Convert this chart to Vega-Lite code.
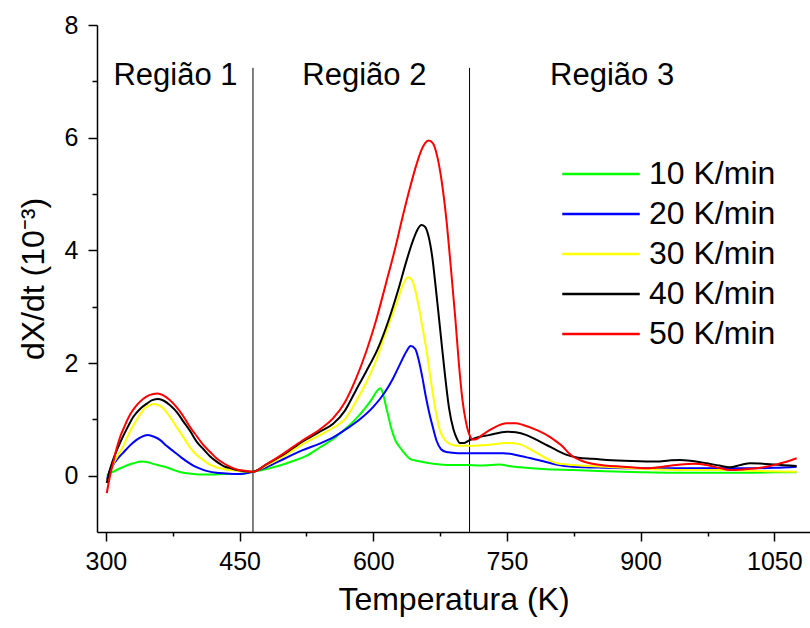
{
  "$schema": "https://vega.github.io/schema/vega-lite/v6.json",
  "width": 713,
  "height": 507,
  "autosize": {"type": "none"},
  "padding": {"left": 97, "top": 25, "right": 0, "bottom": 96},
  "background": "white",
  "config": {"view": {"stroke": null}, "font": "Liberation Sans"},
  "layer": [
    {
      "data": {"values": [{}]},
      "mark": {"type": "rule", "color": "black", "strokeWidth": 1},
      "encoding": {"x": {"datum": 465, "type": "quantitative"}, "y": {"datum": -1, "type": "quantitative"}, "y2": {"datum": 7.24}}
    },
    {
      "data": {"values": [{}]},
      "mark": {"type": "rule", "color": "black", "strokeWidth": 1},
      "encoding": {"x": {"datum": 708, "type": "quantitative"}, "y": {"datum": -1, "type": "quantitative"}, "y2": {"datum": 7.24}}
    },
    {
      "data": {"values": [{}]},
      "mark": {"type": "text", "fontSize": 31, "font": "Liberation Sans", "color": "black", "baseline": "alphabetic", "align": "center"},
      "encoding": {"x": {"datum": 378, "type": "quantitative"}, "y": {"datum": 6.93, "type": "quantitative"}, "text": {"value": "Região 1"}}
    },
    {
      "data": {"values": [{}]},
      "mark": {"type": "text", "fontSize": 31, "font": "Liberation Sans", "color": "black", "baseline": "alphabetic", "align": "center"},
      "encoding": {"x": {"datum": 590, "type": "quantitative"}, "y": {"datum": 6.93, "type": "quantitative"}, "text": {"value": "Região 2"}}
    },
    {
      "data": {"values": [{}]},
      "mark": {"type": "text", "fontSize": 31, "font": "Liberation Sans", "color": "black", "baseline": "alphabetic", "align": "center"},
      "encoding": {"x": {"datum": 868, "type": "quantitative"}, "y": {"datum": 6.93, "type": "quantitative"}, "text": {"value": "Região 3"}}
    },
    {
      "data": {"values": [
        {"T":301,"v":0.0,"s":"10 K/min"},{"T":305,"v":0.05,"s":"10 K/min"},{"T":308,"v":0.07,"s":"10 K/min"},{"T":313,"v":0.11,"s":"10 K/min"},{"T":319,"v":0.15,"s":"10 K/min"},{"T":325,"v":0.19,"s":"10 K/min"},{"T":331,"v":0.22,"s":"10 K/min"},{"T":340,"v":0.25,"s":"10 K/min"},{"T":347,"v":0.24,"s":"10 K/min"},{"T":353,"v":0.21,"s":"10 K/min"},{"T":360,"v":0.18,"s":"10 K/min"},{"T":368,"v":0.15,"s":"10 K/min"},{"T":378,"v":0.09,"s":"10 K/min"},{"T":387,"v":0.05,"s":"10 K/min"},{"T":398,"v":0.03,"s":"10 K/min"},{"T":409,"v":0.02,"s":"10 K/min"},{"T":420,"v":0.02,"s":"10 K/min"},{"T":432,"v":0.03,"s":"10 K/min"},{"T":445,"v":0.03,"s":"10 K/min"},{"T":454,"v":0.04,"s":"10 K/min"},{"T":465,"v":0.07,"s":"10 K/min"},{"T":480,"v":0.12,"s":"10 K/min"},{"T":495,"v":0.18,"s":"10 K/min"},{"T":510,"v":0.26,"s":"10 K/min"},{"T":525,"v":0.35,"s":"10 K/min"},{"T":540,"v":0.5,"s":"10 K/min"},{"T":555,"v":0.65,"s":"10 K/min"},{"T":570,"v":0.85,"s":"10 K/min"},{"T":580,"v":1.0,"s":"10 K/min"},{"T":590,"v":1.18,"s":"10 K/min"},{"T":598,"v":1.35,"s":"10 K/min"},{"T":604,"v":1.5,"s":"10 K/min"},{"T":608,"v":1.55,"s":"10 K/min"},{"T":611,"v":1.45,"s":"10 K/min"},{"T":614,"v":1.25,"s":"10 K/min"},{"T":617,"v":1.05,"s":"10 K/min"},{"T":620,"v":0.85,"s":"10 K/min"},{"T":625,"v":0.62,"s":"10 K/min"},{"T":630,"v":0.5,"s":"10 K/min"},{"T":636,"v":0.38,"s":"10 K/min"},{"T":641,"v":0.3,"s":"10 K/min"},{"T":650,"v":0.26,"s":"10 K/min"},{"T":660,"v":0.23,"s":"10 K/min"},{"T":675,"v":0.2,"s":"10 K/min"},{"T":690,"v":0.19,"s":"10 K/min"},{"T":705,"v":0.19,"s":"10 K/min"},{"T":720,"v":0.18,"s":"10 K/min"},{"T":732,"v":0.19,"s":"10 K/min"},{"T":742,"v":0.2,"s":"10 K/min"},{"T":752,"v":0.17,"s":"10 K/min"},{"T":765,"v":0.15,"s":"10 K/min"},{"T":790,"v":0.12,"s":"10 K/min"},{"T":824,"v":0.1,"s":"10 K/min"},{"T":860,"v":0.08,"s":"10 K/min"},{"T":900,"v":0.06,"s":"10 K/min"},{"T":937,"v":0.05,"s":"10 K/min"},{"T":980,"v":0.05,"s":"10 K/min"},{"T":1020,"v":0.05,"s":"10 K/min"},{"T":1050,"v":0.06,"s":"10 K/min"},{"T":1075,"v":0.06,"s":"10 K/min"},

        {"T":301,"v":-0.08,"s":"20 K/min"},{"T":304,"v":0.08,"s":"20 K/min"},{"T":308,"v":0.19,"s":"20 K/min"},{"T":313,"v":0.3,"s":"20 K/min"},{"T":319,"v":0.4,"s":"20 K/min"},{"T":326,"v":0.52,"s":"20 K/min"},{"T":334,"v":0.63,"s":"20 K/min"},{"T":340,"v":0.69,"s":"20 K/min"},{"T":347,"v":0.72,"s":"20 K/min"},{"T":354,"v":0.69,"s":"20 K/min"},{"T":361,"v":0.63,"s":"20 K/min"},{"T":368,"v":0.53,"s":"20 K/min"},{"T":376,"v":0.43,"s":"20 K/min"},{"T":384,"v":0.33,"s":"20 K/min"},{"T":391,"v":0.25,"s":"20 K/min"},{"T":398,"v":0.18,"s":"20 K/min"},{"T":405,"v":0.13,"s":"20 K/min"},{"T":414,"v":0.08,"s":"20 K/min"},{"T":424,"v":0.05,"s":"20 K/min"},{"T":435,"v":0.04,"s":"20 K/min"},{"T":447,"v":0.03,"s":"20 K/min"},{"T":456,"v":0.04,"s":"20 K/min"},{"T":465,"v":0.07,"s":"20 K/min"},{"T":480,"v":0.15,"s":"20 K/min"},{"T":500,"v":0.3,"s":"20 K/min"},{"T":520,"v":0.45,"s":"20 K/min"},{"T":540,"v":0.57,"s":"20 K/min"},{"T":555,"v":0.68,"s":"20 K/min"},{"T":570,"v":0.83,"s":"20 K/min"},{"T":585,"v":1.0,"s":"20 K/min"},{"T":600,"v":1.22,"s":"20 K/min"},{"T":613,"v":1.48,"s":"20 K/min"},{"T":622,"v":1.72,"s":"20 K/min"},{"T":630,"v":1.98,"s":"20 K/min"},{"T":637,"v":2.2,"s":"20 K/min"},{"T":642,"v":2.3,"s":"20 K/min"},{"T":647,"v":2.25,"s":"20 K/min"},{"T":651,"v":2.05,"s":"20 K/min"},{"T":655,"v":1.75,"s":"20 K/min"},{"T":659,"v":1.4,"s":"20 K/min"},{"T":663,"v":1.1,"s":"20 K/min"},{"T":667,"v":0.85,"s":"20 K/min"},{"T":671,"v":0.62,"s":"20 K/min"},{"T":676,"v":0.47,"s":"20 K/min"},{"T":682,"v":0.42,"s":"20 K/min"},{"T":695,"v":0.4,"s":"20 K/min"},{"T":710,"v":0.4,"s":"20 K/min"},{"T":730,"v":0.4,"s":"20 K/min"},{"T":746,"v":0.4,"s":"20 K/min"},{"T":765,"v":0.35,"s":"20 K/min"},{"T":787,"v":0.27,"s":"20 K/min"},{"T":805,"v":0.2,"s":"20 K/min"},{"T":824,"v":0.16,"s":"20 K/min"},{"T":860,"v":0.14,"s":"20 K/min"},{"T":900,"v":0.13,"s":"20 K/min"},{"T":940,"v":0.13,"s":"20 K/min"},{"T":975,"v":0.13,"s":"20 K/min"},{"T":1020,"v":0.13,"s":"20 K/min"},{"T":1050,"v":0.14,"s":"20 K/min"},{"T":1075,"v":0.16,"s":"20 K/min"},

        {"T":301,"v":-0.1,"s":"30 K/min"},{"T":304,"v":0.05,"s":"30 K/min"},{"T":308,"v":0.2,"s":"30 K/min"},{"T":313,"v":0.35,"s":"30 K/min"},{"T":319,"v":0.51,"s":"30 K/min"},{"T":325,"v":0.72,"s":"30 K/min"},{"T":331,"v":0.9,"s":"30 K/min"},{"T":337,"v":1.05,"s":"30 K/min"},{"T":342,"v":1.17,"s":"30 K/min"},{"T":348,"v":1.24,"s":"30 K/min"},{"T":353,"v":1.27,"s":"30 K/min"},{"T":358,"v":1.26,"s":"30 K/min"},{"T":364,"v":1.2,"s":"30 K/min"},{"T":371,"v":1.06,"s":"30 K/min"},{"T":379,"v":0.87,"s":"30 K/min"},{"T":387,"v":0.68,"s":"30 K/min"},{"T":394,"v":0.51,"s":"30 K/min"},{"T":401,"v":0.38,"s":"30 K/min"},{"T":409,"v":0.28,"s":"30 K/min"},{"T":416,"v":0.2,"s":"30 K/min"},{"T":424,"v":0.15,"s":"30 K/min"},{"T":432,"v":0.12,"s":"30 K/min"},{"T":439,"v":0.1,"s":"30 K/min"},{"T":452,"v":0.08,"s":"30 K/min"},{"T":465,"v":0.07,"s":"30 K/min"},{"T":480,"v":0.18,"s":"30 K/min"},{"T":500,"v":0.35,"s":"30 K/min"},{"T":520,"v":0.55,"s":"30 K/min"},{"T":540,"v":0.72,"s":"30 K/min"},{"T":555,"v":0.85,"s":"30 K/min"},{"T":568,"v":1.0,"s":"30 K/min"},{"T":580,"v":1.3,"s":"30 K/min"},{"T":592,"v":1.65,"s":"30 K/min"},{"T":602,"v":2.0,"s":"30 K/min"},{"T":612,"v":2.45,"s":"30 K/min"},{"T":620,"v":2.8,"s":"30 K/min"},{"T":627,"v":3.1,"s":"30 K/min"},{"T":633,"v":3.38,"s":"30 K/min"},{"T":639,"v":3.52,"s":"30 K/min"},{"T":643,"v":3.48,"s":"30 K/min"},{"T":647,"v":3.3,"s":"30 K/min"},{"T":651,"v":3.0,"s":"30 K/min"},{"T":655,"v":2.65,"s":"30 K/min"},{"T":660,"v":2.2,"s":"30 K/min"},{"T":665,"v":1.65,"s":"30 K/min"},{"T":670,"v":1.15,"s":"30 K/min"},{"T":675,"v":0.8,"s":"30 K/min"},{"T":681,"v":0.62,"s":"30 K/min"},{"T":688,"v":0.55,"s":"30 K/min"},{"T":694,"v":0.53,"s":"30 K/min"},{"T":712,"v":0.53,"s":"30 K/min"},{"T":730,"v":0.55,"s":"30 K/min"},{"T":750,"v":0.58,"s":"30 K/min"},{"T":764,"v":0.56,"s":"30 K/min"},{"T":776,"v":0.47,"s":"30 K/min"},{"T":787,"v":0.37,"s":"30 K/min"},{"T":796,"v":0.29,"s":"30 K/min"},{"T":806,"v":0.22,"s":"30 K/min"},{"T":825,"v":0.19,"s":"30 K/min"},{"T":843,"v":0.17,"s":"30 K/min"},{"T":880,"v":0.14,"s":"30 K/min"},{"T":918,"v":0.11,"s":"30 K/min"},{"T":960,"v":0.1,"s":"30 K/min"},{"T":1000,"v":0.1,"s":"30 K/min"},{"T":1040,"v":0.08,"s":"30 K/min"},{"T":1075,"v":0.07,"s":"30 K/min"},

        {"T":301,"v":-0.13,"s":"40 K/min"},{"T":304,"v":0.08,"s":"40 K/min"},{"T":308,"v":0.28,"s":"40 K/min"},{"T":313,"v":0.48,"s":"40 K/min"},{"T":319,"v":0.69,"s":"40 K/min"},{"T":325,"v":0.88,"s":"40 K/min"},{"T":331,"v":1.05,"s":"40 K/min"},{"T":338,"v":1.18,"s":"40 K/min"},{"T":346,"v":1.28,"s":"40 K/min"},{"T":352,"v":1.34,"s":"40 K/min"},{"T":359,"v":1.36,"s":"40 K/min"},{"T":365,"v":1.33,"s":"40 K/min"},{"T":372,"v":1.25,"s":"40 K/min"},{"T":380,"v":1.12,"s":"40 K/min"},{"T":387,"v":0.96,"s":"40 K/min"},{"T":395,"v":0.78,"s":"40 K/min"},{"T":402,"v":0.6,"s":"40 K/min"},{"T":410,"v":0.46,"s":"40 K/min"},{"T":417,"v":0.34,"s":"40 K/min"},{"T":425,"v":0.24,"s":"40 K/min"},{"T":432,"v":0.17,"s":"40 K/min"},{"T":440,"v":0.13,"s":"40 K/min"},{"T":447,"v":0.1,"s":"40 K/min"},{"T":456,"v":0.08,"s":"40 K/min"},{"T":465,"v":0.07,"s":"40 K/min"},{"T":480,"v":0.2,"s":"40 K/min"},{"T":500,"v":0.38,"s":"40 K/min"},{"T":520,"v":0.6,"s":"40 K/min"},{"T":540,"v":0.78,"s":"40 K/min"},{"T":555,"v":0.92,"s":"40 K/min"},{"T":568,"v":1.15,"s":"40 K/min"},{"T":580,"v":1.5,"s":"40 K/min"},{"T":592,"v":1.85,"s":"40 K/min"},{"T":605,"v":2.25,"s":"40 K/min"},{"T":617,"v":2.75,"s":"40 K/min"},{"T":628,"v":3.3,"s":"40 K/min"},{"T":637,"v":3.8,"s":"40 K/min"},{"T":644,"v":4.15,"s":"40 K/min"},{"T":650,"v":4.38,"s":"40 K/min"},{"T":654,"v":4.45,"s":"40 K/min"},{"T":658,"v":4.42,"s":"40 K/min"},{"T":662,"v":4.25,"s":"40 K/min"},{"T":666,"v":3.9,"s":"40 K/min"},{"T":670,"v":3.35,"s":"40 K/min"},{"T":675,"v":2.6,"s":"40 K/min"},{"T":680,"v":1.85,"s":"40 K/min"},{"T":685,"v":1.2,"s":"40 K/min"},{"T":690,"v":0.82,"s":"40 K/min"},{"T":694,"v":0.65,"s":"40 K/min"},{"T":697,"v":0.58,"s":"40 K/min"},{"T":702,"v":0.58,"s":"40 K/min"},{"T":708,"v":0.63,"s":"40 K/min"},{"T":715,"v":0.67,"s":"40 K/min"},{"T":730,"v":0.72,"s":"40 K/min"},{"T":750,"v":0.78,"s":"40 K/min"},{"T":760,"v":0.77,"s":"40 K/min"},{"T":772,"v":0.72,"s":"40 K/min"},{"T":784,"v":0.63,"s":"40 K/min"},{"T":795,"v":0.54,"s":"40 K/min"},{"T":806,"v":0.45,"s":"40 K/min"},{"T":817,"v":0.37,"s":"40 K/min"},{"T":830,"v":0.32,"s":"40 K/min"},{"T":845,"v":0.3,"s":"40 K/min"},{"T":862,"v":0.28,"s":"40 K/min"},{"T":890,"v":0.26,"s":"40 K/min"},{"T":918,"v":0.25,"s":"40 K/min"},{"T":932,"v":0.27,"s":"40 K/min"},{"T":944,"v":0.28,"s":"40 K/min"},{"T":958,"v":0.26,"s":"40 K/min"},{"T":974,"v":0.22,"s":"40 K/min"},{"T":988,"v":0.18,"s":"40 K/min"},{"T":1000,"v":0.15,"s":"40 K/min"},{"T":1012,"v":0.19,"s":"40 K/min"},{"T":1023,"v":0.22,"s":"40 K/min"},{"T":1050,"v":0.2,"s":"40 K/min"},{"T":1075,"v":0.17,"s":"40 K/min"},

        {"T":301,"v":-0.31,"s":"50 K/min"},{"T":304,"v":-0.05,"s":"50 K/min"},{"T":308,"v":0.22,"s":"50 K/min"},{"T":312,"v":0.48,"s":"50 K/min"},{"T":316,"v":0.69,"s":"50 K/min"},{"T":321,"v":0.88,"s":"50 K/min"},{"T":327,"v":1.08,"s":"50 K/min"},{"T":333,"v":1.22,"s":"50 K/min"},{"T":338,"v":1.31,"s":"50 K/min"},{"T":345,"v":1.4,"s":"50 K/min"},{"T":353,"v":1.45,"s":"50 K/min"},{"T":358,"v":1.46,"s":"50 K/min"},{"T":364,"v":1.43,"s":"50 K/min"},{"T":371,"v":1.35,"s":"50 K/min"},{"T":379,"v":1.22,"s":"50 K/min"},{"T":387,"v":1.05,"s":"50 K/min"},{"T":394,"v":0.87,"s":"50 K/min"},{"T":402,"v":0.7,"s":"50 K/min"},{"T":409,"v":0.55,"s":"50 K/min"},{"T":417,"v":0.42,"s":"50 K/min"},{"T":424,"v":0.31,"s":"50 K/min"},{"T":432,"v":0.22,"s":"50 K/min"},{"T":439,"v":0.16,"s":"50 K/min"},{"T":447,"v":0.11,"s":"50 K/min"},{"T":454,"v":0.09,"s":"50 K/min"},{"T":465,"v":0.07,"s":"50 K/min"},{"T":480,"v":0.2,"s":"50 K/min"},{"T":500,"v":0.4,"s":"50 K/min"},{"T":520,"v":0.62,"s":"50 K/min"},{"T":540,"v":0.82,"s":"50 K/min"},{"T":555,"v":1.02,"s":"50 K/min"},{"T":568,"v":1.3,"s":"50 K/min"},{"T":580,"v":1.7,"s":"50 K/min"},{"T":592,"v":2.2,"s":"50 K/min"},{"T":603,"v":2.75,"s":"50 K/min"},{"T":614,"v":3.4,"s":"50 K/min"},{"T":624,"v":4.0,"s":"50 K/min"},{"T":633,"v":4.6,"s":"50 K/min"},{"T":641,"v":5.1,"s":"50 K/min"},{"T":648,"v":5.5,"s":"50 K/min"},{"T":654,"v":5.78,"s":"50 K/min"},{"T":658,"v":5.9,"s":"50 K/min"},{"T":662,"v":5.95,"s":"50 K/min"},{"T":667,"v":5.9,"s":"50 K/min"},{"T":672,"v":5.65,"s":"50 K/min"},{"T":677,"v":5.2,"s":"50 K/min"},{"T":682,"v":4.55,"s":"50 K/min"},{"T":687,"v":3.7,"s":"50 K/min"},{"T":692,"v":2.8,"s":"50 K/min"},{"T":696,"v":2.0,"s":"50 K/min"},{"T":700,"v":1.35,"s":"50 K/min"},{"T":704,"v":0.95,"s":"50 K/min"},{"T":708,"v":0.72,"s":"50 K/min"},{"T":712,"v":0.64,"s":"50 K/min"},{"T":716,"v":0.65,"s":"50 K/min"},{"T":722,"v":0.72,"s":"50 K/min"},{"T":735,"v":0.85,"s":"50 K/min"},{"T":750,"v":0.93,"s":"50 K/min"},{"T":760,"v":0.93,"s":"50 K/min"},{"T":768,"v":0.9,"s":"50 K/min"},{"T":785,"v":0.8,"s":"50 K/min"},{"T":798,"v":0.69,"s":"50 K/min"},{"T":806,"v":0.6,"s":"50 K/min"},{"T":813,"v":0.51,"s":"50 K/min"},{"T":818,"v":0.42,"s":"50 K/min"},{"T":824,"v":0.34,"s":"50 K/min"},{"T":833,"v":0.27,"s":"50 K/min"},{"T":843,"v":0.22,"s":"50 K/min"},{"T":860,"v":0.18,"s":"50 K/min"},{"T":880,"v":0.16,"s":"50 K/min"},{"T":907,"v":0.13,"s":"50 K/min"},{"T":925,"v":0.16,"s":"50 K/min"},{"T":945,"v":0.2,"s":"50 K/min"},{"T":960,"v":0.21,"s":"50 K/min"},{"T":974,"v":0.19,"s":"50 K/min"},{"T":990,"v":0.13,"s":"50 K/min"},{"T":1000,"v":0.1,"s":"50 K/min"},{"T":1015,"v":0.11,"s":"50 K/min"},{"T":1030,"v":0.13,"s":"50 K/min"},{"T":1045,"v":0.17,"s":"50 K/min"},{"T":1057,"v":0.22,"s":"50 K/min"},{"T":1068,"v":0.27,"s":"50 K/min"},{"T":1075,"v":0.31,"s":"50 K/min"}
      ]},
      "mark": {"type": "line", "strokeWidth": 2, "interpolate": "monotone"},
      "encoding": {
        "x": {
          "field": "T", "type": "quantitative",
          "scale": {"domain": [290, 1090], "nice": false, "zero": false},
          "axis": {
            "title": "Temperatura (K)",
            "values": [300, 375, 450, 525, 600, 675, 750, 825, 900, 975, 1050],
            "format": "d",
            "labelExpr": "datum.value % 150 === 0 ? datum.label : ''",
            "tickSize": {"condition": {"test": "datum.value % 150 === 0", "value": 9}, "value": 4},
            "tickWidth": 1.5, "tickColor": "black",
            "domainColor": "black", "domainWidth": 1.5,
            "grid": false,
            "labelFont": "Liberation Sans", "labelFontSize": 25, "labelColor": "black", "labelPadding": 8,
            "labelFlush": false, "labelOverlap": false,
            "titleFont": "Liberation Sans", "titleFontSize": 32, "titleFontWeight": "normal", "titleColor": "black", "titlePadding": 10
          }
        },
        "y": {
          "field": "v", "type": "quantitative",
          "scale": {"domain": [-1, 8], "nice": false, "zero": false},
          "axis": {
            "title": "dX/dt (10⁻³)",
            "values": [0, 1, 2, 3, 4, 5, 6, 7, 8],
            "format": "d",
            "labelExpr": "datum.value % 2 === 0 ? datum.label : ''",
            "tickSize": {"condition": {"test": "datum.value % 2 === 0", "value": 9}, "value": 5},
            "tickWidth": 1.5, "tickColor": "black",
            "domainColor": "black", "domainWidth": 1.5,
            "grid": false,
            "labelFont": "Liberation Sans", "labelFontSize": 25, "labelColor": "black", "labelPadding": 10,
            "labelFlush": false, "labelOverlap": false,
            "titleFont": "Liberation Sans", "titleFontSize": 32, "titleFontWeight": "normal", "titleColor": "black", "titlePadding": 14
          }
        },
        "color": {
          "field": "s", "type": "nominal",
          "scale": {"domain": ["10 K/min", "20 K/min", "30 K/min", "40 K/min", "50 K/min"], "range": ["#00ff00", "#0000ff", "#ffff00", "#000000", "#ff0000"]},
          "legend": {
            "title": null,
            "orient": "none",
            "legendX": 487,
            "legendY": 132,
            "symbolType": "M-2.5,0H2.5",
            "symbolSize": 961,
            "symbolStrokeWidth": 2.5,
            "symbolFillColor": "transparent",
            "labelFont": "Liberation Sans",
            "labelFontSize": 32,
            "labelColor": "black",
            "labelOffset": 31,
            "rowPadding": 7
          }
        }
      }
    }
  ]
}
